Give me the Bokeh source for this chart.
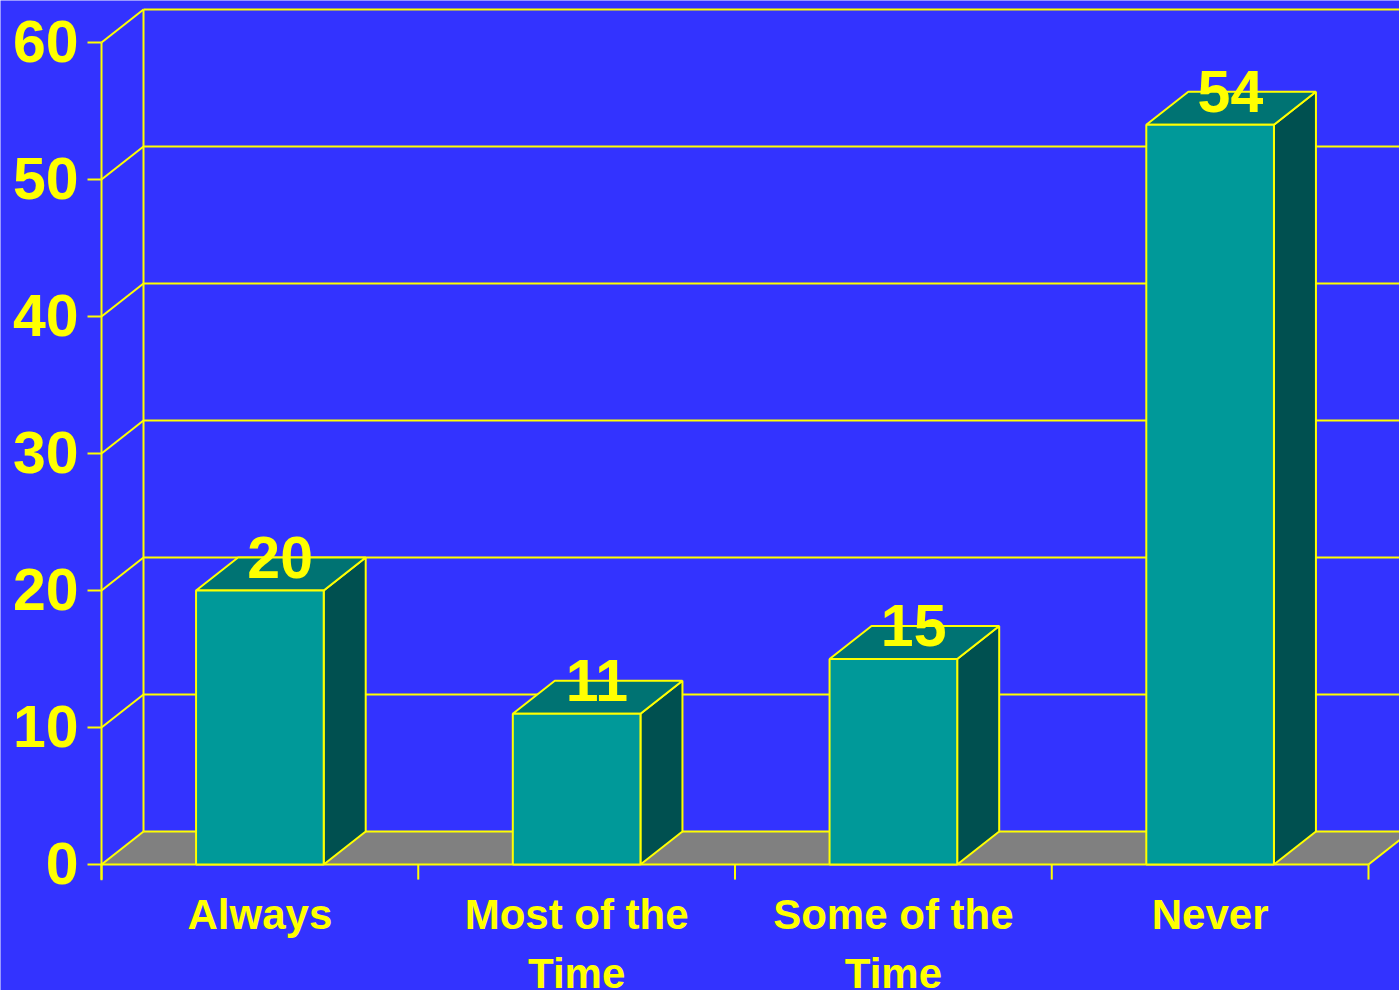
from bokeh.plotting import figure
from bokeh.models import ColumnDataSource, Range1d
from bokeh.core.properties import value
from bokeh.embed import file_html
from bokeh.resources import INLINE

# Survey answers and their percentages
categories = [["Always"], ["Most of the", "Time"], ["Some of the", "Time"], ["Never"]]
values = [20, 11, 15, 54]
y_ticks = [0, 10, 20, 30, 40, 50, 60]

BG = "#3333FF"
YELLOW = "#FFFF00"
FRONT = "#009999"
TOP = "#007373"
SIDE = "#005050"
FLOOR = "#808080"
FONT = value("Liberation Sans")

# 3D depth offsets in data units (categories along x, values along y)
DX = 0.1326
DY = 2.41
HALF_W = 0.2015
N = len(values)
YMAX = y_ticks[-1]
LW = 2

p = figure(width=1399, height=990, output_backend="svg", toolbar_location=None,
           x_range=Range1d(-0.3189, 4.0979), y_range=Range1d(-9.197, 63.066),
           min_border=0, x_axis_type=None, y_axis_type=None)
p.background_fill_color = BG
p.border_fill_color = BG
p.outline_line_color = None
p.grid.visible = False

# floor
p.patch([0, N, N + DX, DX], [0, 0, DY, DY], fill_color=FLOOR, line_color=None)

# back wall grid lines
p.segment(x0=[DX] * len(y_ticks), y0=[t + DY for t in y_ticks],
          x1=[N + DX + 1] * len(y_ticks), y1=[t + DY for t in y_ticks],
          line_color=YELLOW, line_width=LW)
# side wall diagonals
p.segment(x0=[0] * len(y_ticks), y0=y_ticks,
          x1=[DX] * len(y_ticks), y1=[t + DY for t in y_ticks],
          line_color=YELLOW, line_width=LW)
# back wall vertical edge
p.segment(x0=[DX], y0=[DY], x1=[DX], y1=[YMAX + DY], line_color=YELLOW, line_width=LW)
# floor right edge
p.segment(x0=[N], y0=[0], x1=[N + DX], y1=[DY], line_color=YELLOW, line_width=LW)

# front axes, ticks
p.segment(x0=[0], y0=[-1.15], x1=[0], y1=[YMAX], line_color=YELLOW, line_width=LW)
p.segment(x0=[0], y0=[0], x1=[N], y1=[0], line_color=YELLOW, line_width=LW)
p.segment(x0=[-0.0442] * len(y_ticks), y0=y_ticks, x1=[0] * len(y_ticks), y1=y_ticks,
          line_color=YELLOW, line_width=LW)
p.segment(x0=list(range(N + 1)), y0=[0] * (N + 1), x1=list(range(N + 1)), y1=[-1.1] * (N + 1),
          line_color=YELLOW, line_width=LW)

# bars
centers = [i + 0.5 for i in range(N)]
bars = ColumnDataSource(dict(
    left=[c - HALF_W for c in centers], right=[c + HALF_W for c in centers],
    top=values, bottom=[0] * N,
))
tops_x = [[c - HALF_W, c + HALF_W, c + HALF_W + DX, c - HALF_W + DX] for c in centers]
tops_y = [[v, v, v + DY, v + DY] for v in values]
sides_x = [[c + HALF_W, c + HALF_W + DX, c + HALF_W + DX, c + HALF_W] for c in centers]
sides_y = [[0, DY, v + DY, v] for v in values]

p.patches(sides_x, sides_y, fill_color=SIDE, line_color=YELLOW, line_width=LW)
p.patches(tops_x, tops_y, fill_color=TOP, line_color=YELLOW, line_width=LW)
p.quad(left="left", right="right", top="top", bottom="bottom", source=bars,
       fill_color=FRONT, line_color=YELLOW, line_width=LW)

# value labels above each bar
p.text(x=[c + 0.064 for c in centers], y=[v + 2.44 for v in values],
       text=[str(v) for v in values], text_font=FONT, text_font_style="bold",
       text_font_size="59px", text_color=YELLOW, text_align="center",
       text_baseline="alphabetic")

# y tick labels
p.text(x=[-0.0726] * len(y_ticks), y=[t + 0.07 for t in y_ticks],
       text=[str(t) for t in y_ticks], text_font=FONT, text_font_style="bold",
       text_font_size="59px", text_color=YELLOW, text_align="right",
       text_baseline="alphabetic")

# category labels, one glyph per line
lx, ly, lt = [], [], []
for c, lines in zip(centers, categories):
    for k, line in enumerate(lines):
        lx.append(c)
        ly.append(-3.65 - k * 4.3)
        lt.append(line)
p.text(x=lx, y=ly, text=lt, text_font=FONT, text_font_style="bold",
       text_font_size="42px", text_color=YELLOW, text_align="center",
       text_baseline="alphabetic")

open("out.html", "w").write(file_html(p, INLINE))
